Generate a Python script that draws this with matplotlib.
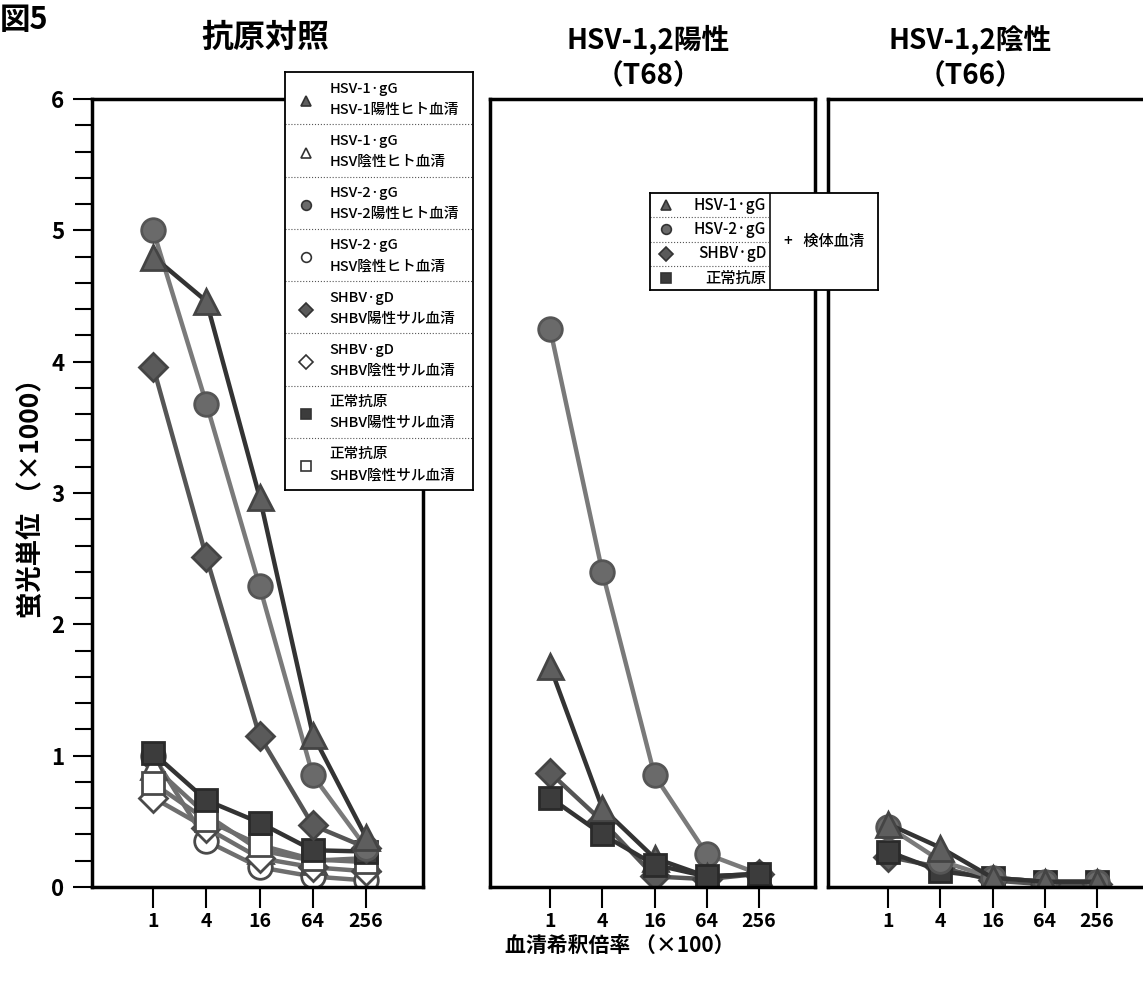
import numpy as np
import matplotlib.pyplot as plt
from matplotlib.ticker import FixedLocator, MultipleLocator

plt.rcParams['font.family'] = ['Noto Sans CJK JP', 'DejaVu Sans']

dil = [1, 4, 16, 64, 256]
dil_labels = ['1', '4', '16', '64', '256']

# antigen controls (x1000 fluorescence units)
c_hsv1_pos = [4.80, 4.46, 2.97, 1.16, 0.38]
c_hsv1_neg = [0.92, 0.55, 0.28, 0.20, 0.22]
c_hsv2_pos = [5.00, 3.68, 2.29, 0.85, 0.30]
c_hsv2_neg = [1.00, 0.35, 0.15, 0.08, 0.05]
c_shbv_pos = [3.96, 2.51, 1.15, 0.47, 0.30]
c_shbv_neg = [0.68, 0.45, 0.22, 0.15, 0.12]
c_norm_pos = [1.02, 0.66, 0.49, 0.28, 0.27]
c_norm_neg = [0.79, 0.51, 0.32, 0.21, 0.19]

# T68 (HSV-1,2 positive)
p_hsv1 = [1.68, 0.60, 0.22, 0.08, 0.10]
p_hsv2 = [4.25, 2.40, 0.85, 0.25, 0.10]
p_shbv = [0.87, 0.50, 0.08, 0.06, 0.10]
p_norm = [0.68, 0.40, 0.17, 0.08, 0.10]

# T66 (HSV-1,2 negative)
n_hsv1 = [0.48, 0.30, 0.07, 0.04, 0.04]
n_hsv2 = [0.46, 0.20, 0.07, 0.04, 0.04]
n_shbv = [0.23, 0.15, 0.05, 0.02, 0.02]
n_norm = [0.27, 0.12, 0.07, 0.04, 0.04]

# marker / line styles
tri = dict(marker='^', ms=18, color='#333333', mfc='#5e5e5e', mec='#444444')
cir = dict(marker='o', ms=17, color='#7a7a7a', mfc='#6a6a6a', mec='#555555')
dia = dict(marker='D', ms=14, color='#555555', mfc='#5a5a5a', mec='#444444')
sqr = dict(marker='s', ms=16, color='#333333', mfc='#3c3c3c', mec='#2a2a2a')


def hollow(st):
    d = dict(st)
    d['mfc'] = 'white'
    d['mec'] = '#4a4a4a'
    d['color'] = '#6e6e6e'
    return d


fig = plt.figure(figsize=(11.43, 9.83), dpi=100)

W, H = 1143.0, 983.0
panels = [(92, 423), (490, 815), (828, 1153)]
axes = []
for x0, x1 in panels:
    ax = fig.add_axes([x0 / W, (H - 887) / H, (x1 - x0) / W, 788 / H])
    ax.set_xscale('log', base=4)
    ax.set_xlim(0.203, 1130)
    ax.set_ylim(0, 6)
    ax.xaxis.set_major_locator(FixedLocator(dil))
    ax.xaxis.set_minor_locator(FixedLocator([]))
    ax.set_xticklabels(dil_labels, fontsize=14, fontweight='bold')
    ax.tick_params(axis='x', direction='out', length=15, width=1.5, pad=3)
    for s in ax.spines.values():
        s.set_linewidth(2.5)
    axes.append(ax)

ax1, ax2, ax3 = axes
ax1.yaxis.set_major_locator(MultipleLocator(1))
ax1.yaxis.set_minor_locator(MultipleLocator(0.2))
ax1.tick_params(axis='y', which='major', direction='out', length=14, width=1.5, pad=6)
ax1.tick_params(axis='y', which='minor', direction='out', length=12, width=1.5)
for lb in ax1.get_yticklabels():
    lb.set_fontsize(16)
    lb.set_fontweight('bold')
for ax in (ax2, ax3):
    ax.set_yticks([])

lw = 3.2
kw = dict(lw=lw, mew=2)
# hollow series first so the filled ones sit on top
ax1.plot(dil, c_hsv2_neg, **hollow(cir), **kw)
ax1.plot(dil, c_hsv1_neg, **hollow(tri), **kw)
ax1.plot(dil, c_shbv_neg, **hollow(dia), **kw)
ax1.plot(dil, c_norm_neg, **hollow(sqr), **kw)
ax1.plot(dil, c_norm_pos, **sqr, **kw)
ax1.plot(dil, c_shbv_pos, **dia, **kw)
ax1.plot(dil, c_hsv2_pos, **cir, **kw)
ax1.plot(dil, c_hsv1_pos, **tri, **kw)

ax2.plot(dil, p_hsv2, **cir, **kw)
ax2.plot(dil, p_shbv, **dia, **kw)
ax2.plot(dil, p_hsv1, **tri, **kw)
ax2.plot(dil, p_norm, **sqr, **kw)

ax3.plot(dil, n_shbv, **dia, **kw)
ax3.plot(dil, n_norm, **sqr, **kw)
ax3.plot(dil, n_hsv2, **cir, **kw)
ax3.plot(dil, n_hsv1, **tri, **kw)

# legend for the control panel
lg = fig.add_axes([285 / W, (H - 490) / H, 188 / W, 418 / H])
lg.set_xlim(0, 1)
lg.set_ylim(8, 0)
lg.set_xticks([])
lg.set_yticks([])
for s in lg.spines.values():
    s.set_linewidth(1.3)
leg_rows = [
    (tri, False, 'HSV-1·gG', 'HSV-1陽性ヒト血清'),
    (tri, True, 'HSV-1·gG', 'HSV陰性ヒト血清'),
    (cir, False, 'HSV-2·gG', 'HSV-2陽性ヒト血清'),
    (cir, True, 'HSV-2·gG', 'HSV陰性ヒト血清'),
    (dia, False, 'SHBV·gD', 'SHBV陽性サル血清'),
    (dia, True, 'SHBV·gD', 'SHBV陰性サル血清'),
    (sqr, False, '正常抗原', 'SHBV陽性サル血清'),
    (sqr, True, '正常抗原', 'SHBV陰性サル血清'),
]
for i, (st, open_, l1, l2) in enumerate(leg_rows):
    st = hollow(st) if open_ else st
    lg.plot([0.11], [i + 0.55], marker=st['marker'], ms=7, mfc=st['mfc'],
            mec='#333333', mew=1.2, ls='none')
    lg.text(0.235, i + 0.32, l1, fontsize=10.5, fontweight='medium', va='center', ha='left')
    lg.text(0.235, i + 0.72, l2, fontsize=10.5, fontweight='medium', va='center', ha='left')
    if i > 0:
        lg.axhline(i, color='#555555', lw=0.8, ls=':')

# legend for the sample panels
lg2 = fig.add_axes([650 / W, (H - 290) / H, 228 / W, 97 / H])
lg2.set_xlim(0, 1)
lg2.set_ylim(4, 0)
lg2.set_xticks([])
lg2.set_yticks([])
for s in lg2.spines.values():
    s.set_linewidth(1.3)
lg2.axvline(0.527, color='#222222', lw=1.3)
leg2_rows = [(tri, 'HSV-1·gG'), (cir, 'HSV-2·gG'), (dia, 'SHBV·gD'), (sqr, '正常抗原')]
for i, (st, lab) in enumerate(leg2_rows):
    lg2.plot([0.07], [i + 0.5], marker=st['marker'], ms=7, mfc=st['mfc'],
             mec='#333333', mew=1.2, ls='none')
    lg2.text(0.51, i + 0.5, lab, fontsize=11, fontweight='medium', va='center', ha='right')
    if i > 0:
        lg2.plot([0, 0.527], [i, i], color='#555555', lw=0.8, ls=':')
lg2.text(0.765, 2.0, '+   検体血清', fontsize=11, fontweight='medium', va='center', ha='center')

# titles and axis labels
fig.text(0, 1 - 20 / H, '図5', fontsize=22, fontweight='bold', va='center', ha='left')
fig.text(265 / W, 1 - 38 / H, '抗原対照', fontsize=23, fontweight='bold', va='center', ha='center')
fig.text(648 / W, 1 - 40 / H, 'HSV-1,2陽性', fontsize=20, fontweight='bold', va='center', ha='center')
fig.text(648 / W, 1 - 76 / H, '（T68）', fontsize=20, fontweight='bold', va='center', ha='center')
fig.text(970 / W, 1 - 40 / H, 'HSV-1,2陰性', fontsize=20, fontweight='bold', va='center', ha='center')
fig.text(970 / W, 1 - 76 / H, '（T66）', fontsize=20, fontweight='bold', va='center', ha='center')
fig.text(32 / W, 1 - 492 / H, '蛍光単位 （×1000）', fontsize=19, fontweight='bold',
         rotation=90, va='center', ha='center')
fig.text(620 / W, 1 - 945 / H, '血清希釈倍率 （×100）', fontsize=15, fontweight='bold',
         va='center', ha='center')

fig.savefig('out.png', dpi=100)
